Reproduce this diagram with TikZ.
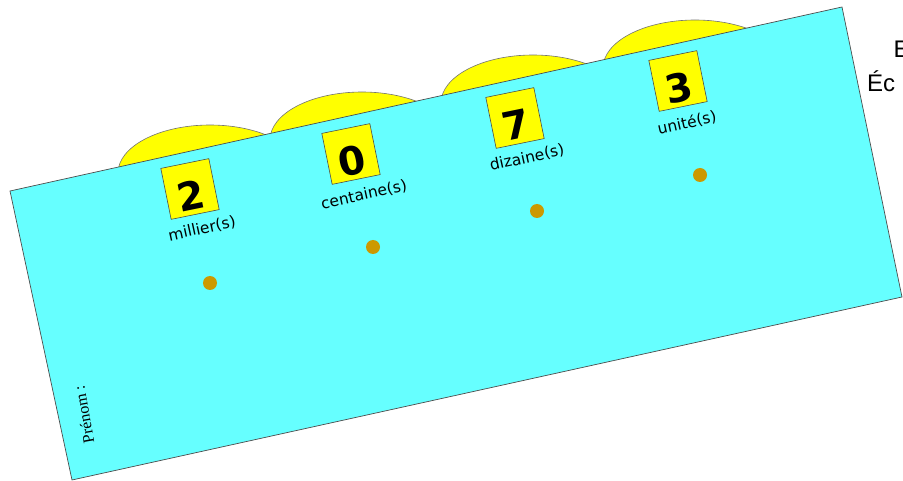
\documentclass[tikz,border=0pt]{standalone}
\usepackage{fontspec}
\setmainfont{DejaVu Sans}
\newfontfamily\serifP{Liberation Serif}
\newfontfamily\arialF{Liberation Sans}
\definecolor{sheetc}{HTML}{66FFFF}
\definecolor{beadc}{HTML}{CC9900}
\definecolor{yel}{HTML}{FFFF00}
\begin{document}
\begin{tikzpicture}[x=1pt,y=-1pt,
  bump/.style={fill=yel, draw=black!55, line width=0.6pt},
  sheet/.style={fill=sheetc, draw=black!70, line width=0.7pt},
  digitbox/.style={fill=yel, draw=black!70, line width=0.6pt, minimum width=49pt, minimum height=52pt,
    inner sep=0pt, text height=43pt, text depth=0pt, rotate=11.5, font=\fontsize{39}{39}\selectfont\bfseries},
  place/.style={font=\fontsize{15.5}{16}\selectfont, rotate=12.3, inner sep=0pt},
  bead/.style={circle, fill=beadc, minimum size=14pt, inner sep=0pt},
  side/.style={font=\arialF\fontsize{24}{24}\selectfont, inner sep=0pt, anchor=base west}
]
\useasboundingbox (0,0) rectangle (903,481);
\clip (0,0) rectangle (903,481);
% yellow bumps behind the sheet
\draw[bump] (210,173) ellipse [x radius=92pt, y radius=48pt];
\draw[bump] (362,140) ellipse [x radius=92pt, y radius=48pt];
\draw[bump] (533,103) ellipse [x radius=92pt, y radius=48pt];
\draw[bump] (695,68) ellipse [x radius=92pt, y radius=48pt];
% sheet
\coordinate (TL) at (10,191);
\coordinate (TR) at (842,7);
\coordinate (BR) at (902,297);
\coordinate (BL) at (72,480);
\draw[sheet] (TL) -- (TR) -- (BR) -- (BL) -- cycle;
% digit boxes
\node[digitbox] (d1) at (190,189) {2};
\node[digitbox] (d2) at (351,154) {0};
\node[digitbox] (d3) at (515,118) {7};
\node[digitbox] (d4) at (678,81) {3};
% labels
\node[place] (l1) at (202,229) {millier(s)};
\node[place] (l2) at (364,195) {centaine(s)};
\node[place] (l3) at (527,158) {dizaine(s)};
\node[place] (l4) at (687,123) {unité(s)};
% beads
\node[bead] (b1) at (210,283) {};
\node[bead] (b2) at (373,247) {};
\node[bead] (b3) at (537,211) {};
\node[bead] (b4) at (700,175) {};
% name
\node[font=\serifP\fontsize{16}{16}\selectfont, rotate=100, inner sep=0pt] (pn) at (84,415) {Prénom :};
% cut text on the right
\node[side] (t1) at (893.5,57.7) {E};
\node[side] (t2) at (867,91.7) {Éc};
\end{tikzpicture}
\end{document}
